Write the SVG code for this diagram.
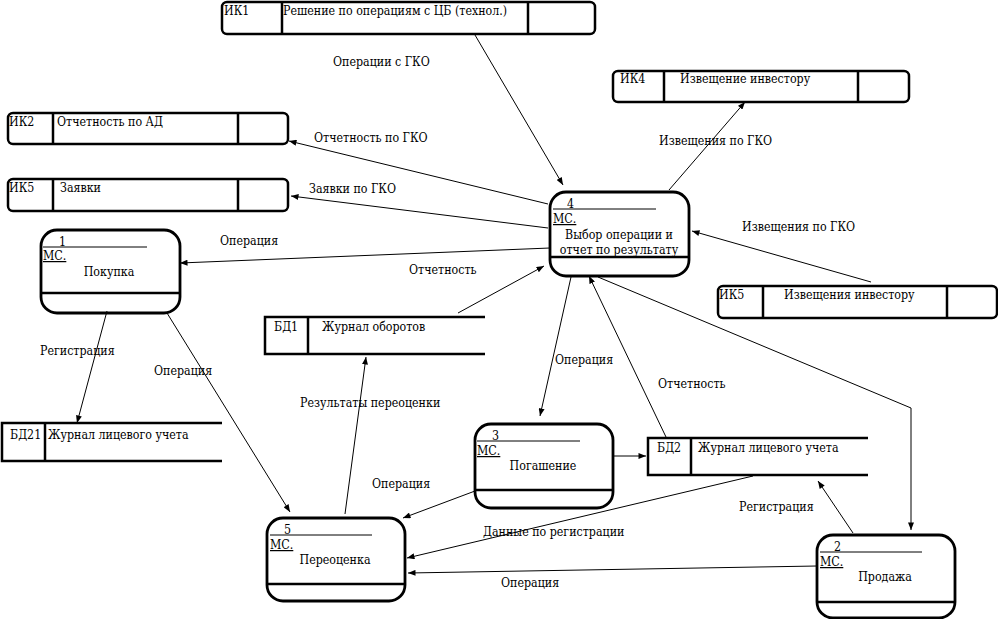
<svg xmlns="http://www.w3.org/2000/svg" width="998" height="619" viewBox="0 0 998 619">
<defs>
<marker id="ah" viewBox="0 0 10 8" refX="10" refY="4" markerWidth="8" markerHeight="6" orient="auto" markerUnits="userSpaceOnUse">
<path d="M0,0 L10,4 L0,8 z" fill="#000"/>
</marker>
<style>
text{font-family:"DejaVu Serif Condensed","DejaVu Serif","Liberation Serif",serif;font-stretch:condensed;font-size:12.3px;fill:#000}
.box{fill:#fff;stroke:#000;stroke-width:2.5}
.div{stroke:#000;stroke-width:2.5;fill:none}
.proc{fill:#fff;stroke:#000;stroke-width:2.8}
.thin{stroke:#000;stroke-width:1;fill:none}
.c line,.c polyline{stroke:#000;stroke-width:1;fill:none;marker-end:url(#ah)}
.m{text-anchor:middle}
</style>
</defs>
<rect width="998" height="619" fill="#fff"/>

<g id="ik1"><rect class="box" x="222" y="2" width="373" height="32" rx="5"/><line class="div" x1="282" y1="2" x2="282" y2="34"/><line class="div" x1="528" y1="2" x2="528" y2="34"/><text x="224" y="15">ИК1</text><text x="283" y="15">Решение по операциям с ЦБ (технол.)</text></g>
<g id="ik4"><rect class="box" x="613" y="71" width="296" height="31" rx="5"/><line class="div" x1="664" y1="71" x2="664" y2="102"/><line class="div" x1="858" y1="71" x2="858" y2="102"/><text x="620" y="83">ИК4</text><text x="680" y="83">Извещение инвестору</text></g>
<g id="ik2"><rect class="box" x="8" y="113" width="280" height="31" rx="5"/><line class="div" x1="53" y1="113" x2="53" y2="144"/><line class="div" x1="238" y1="113" x2="238" y2="144"/><text x="9" y="126">ИК2</text><text x="57" y="126">Отчетность по АД</text></g>
<g id="ik5a"><rect class="box" x="8" y="179" width="280" height="32" rx="5"/><line class="div" x1="53" y1="179" x2="53" y2="211"/><line class="div" x1="238" y1="179" x2="238" y2="211"/><text x="9" y="192">ИК5</text><text x="60" y="192">Заявки</text></g>
<g id="ik5b"><rect class="box" x="718" y="286" width="279" height="32" rx="5"/><line class="div" x1="763" y1="286" x2="763" y2="318"/><line class="div" x1="947" y1="286" x2="947" y2="318"/><text x="719" y="299">ИК5</text><text x="784" y="299">Извещения инвестору</text></g>

<g id="bd1"><path class="div" d="M485,317 H265 V354 H485"/><line class="div" x1="308" y1="317" x2="308" y2="354"/><text x="274" y="331">БД1</text><text x="322" y="331">Журнал оборотов</text></g>
<g id="bd21"><path class="div" d="M222,423 H2 V461 H222"/><line class="div" x1="45" y1="423" x2="45" y2="461"/><text x="10" y="439">БД21</text><text x="48" y="439">Журнал лицевого учета</text></g>
<g id="bd2"><path class="div" d="M868,438 H648 V475 H868"/><line class="div" x1="691" y1="438" x2="691" y2="475"/><text x="657" y="452">БД2</text><text x="698" y="452">Журнал лицевого учета</text></g>

<g id="p1"><rect class="proc" x="41" y="230" width="139" height="83" rx="16"/><line class="thin" x1="43" y1="247" x2="147" y2="247"/><line class="div" x1="41" y1="293" x2="180" y2="293"/><text x="59" y="246">1</text><text x="43" y="260" text-decoration="underline">МС.</text><text class="m" x="109" y="276">Покупка</text></g>
<g id="p4"><rect class="proc" x="550" y="192" width="139" height="84" rx="16"/><line class="thin" x1="553" y1="209" x2="656" y2="209"/><line class="div" x1="550" y1="257" x2="689" y2="257"/><text x="567" y="208">4</text><text x="553" y="223" text-decoration="underline">МС.</text><text class="m" x="619" y="239">Выбор операции и</text><text class="m" x="619" y="254">отчет по результату</text></g>
<g id="p3"><rect class="proc" x="475" y="424" width="138" height="84" rx="16"/><line class="thin" x1="477" y1="441" x2="580" y2="441"/><line class="div" x1="475" y1="490" x2="613" y2="490"/><text x="492" y="440">3</text><text x="477" y="455" text-decoration="underline">МС.</text><text class="m" x="543" y="470">Погашение</text></g>
<g id="p5"><rect class="proc" x="267" y="518" width="138" height="83" rx="16"/><line class="thin" x1="270" y1="535" x2="372" y2="535"/><line class="div" x1="267" y1="584" x2="405" y2="584"/><text x="284" y="534">5</text><text x="270" y="549" text-decoration="underline">МС.</text><text class="m" x="335" y="564">Переоценка</text></g>
<g id="p2"><rect class="proc" x="817" y="535" width="138" height="83" rx="16"/><line class="thin" x1="820" y1="552" x2="922" y2="552"/><line class="div" x1="817" y1="602" x2="955" y2="602"/><text x="834" y="551">2</text><text x="820" y="566" text-decoration="underline">МС.</text><text class="m" x="885" y="581">Продажа</text></g>

<g id="connectors" class="c">
<line x1="475" y1="35" x2="563" y2="185"/>
<line x1="548" y1="204" x2="289" y2="141"/>
<line x1="548" y1="228" x2="291" y2="196"/>
<line x1="550" y1="248" x2="180" y2="263"/>
<line x1="669" y1="190" x2="745" y2="102"/>
<line x1="871" y1="282" x2="692" y2="231"/>
<line x1="458" y1="313" x2="544" y2="266"/>
<line x1="571" y1="277" x2="540" y2="416"/>
<line x1="666" y1="437" x2="589" y2="276"/>
<polyline points="598,277 911,408 911,530"/>
<line x1="107" y1="311" x2="77" y2="423"/>
<line x1="167" y1="313" x2="290" y2="512"/>
<line x1="345" y1="514" x2="366" y2="357"/>
<line x1="475" y1="491" x2="403" y2="518"/>
<line x1="613" y1="456" x2="646" y2="456"/>
<line x1="753" y1="476" x2="407" y2="558"/>
<line x1="853" y1="533" x2="818" y2="481"/>
<line x1="817" y1="566" x2="408" y2="573"/>
</g>
<g id="labels">
<text x="333" y="66">Операции с ГКО</text>
<text x="314" y="142">Отчетность по ГКО</text>
<text x="309" y="193">Заявки по ГКО</text>
<text x="220" y="245">Операция</text>
<text x="659" y="145">Извещения по ГКО</text>
<text x="742" y="231">Извещения по ГКО</text>
<text x="409" y="274">Отчетность</text>
<text x="555" y="364">Операция</text>
<text x="658" y="388">Отчетность</text>
<text x="40" y="355">Регистрация</text>
<text x="154" y="375">Операция</text>
<text x="300" y="407">Результаты переоценки</text>
<text x="372" y="488">Операция</text>
<text x="483" y="536">Данные по регистрации</text>
<text x="739" y="511">Регистрация</text>
<text x="501" y="587">Операция</text>
</g>
</svg>
